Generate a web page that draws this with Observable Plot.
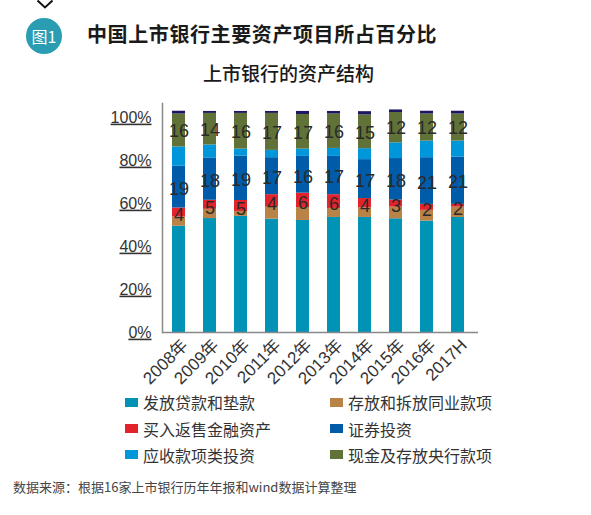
<!DOCTYPE html>
<html><head><meta charset="utf-8">
<script src="https://cdn.jsdelivr.net/npm/d3@7"></script>
<script src="https://cdn.jsdelivr.net/npm/@observablehq/plot@0.6"></script>
<style>
body{margin:0;width:591px;height:515px;position:relative;background:#fff;font-family:"Noto Sans CJK SC",sans-serif;overflow:hidden}
#chev{position:absolute;left:0;top:0}
#badge{position:absolute;left:26px;top:18px;width:36px;height:36px;border-radius:50%;background:#2a9db3;color:#fff;font-size:16px;line-height:36px;text-align:center}
#title{position:absolute;left:87px;top:22px;font-size:20px;line-height:24px;font-weight:bold;color:#1a1a1a;letter-spacing:0.6px;white-space:nowrap}
#subtitle{position:absolute;left:0;width:577px;top:61px;font-size:19px;line-height:24px;font-weight:500;color:#1a1a1a;text-align:center;white-space:nowrap}
#chart{position:absolute;left:0;top:95px}
#legend{position:absolute;left:125px;top:389px;display:grid;grid-template-columns:205px 200px;row-gap:0}
.li{display:flex;align-items:center;height:26.4px;font-size:16px;color:#333;white-space:nowrap}
.sw{width:13px;height:9px;margin-right:5px;flex:none}
#source{position:absolute;left:13px;top:478px;font-size:13px;line-height:17px;color:#444;white-space:nowrap}
</style></head><body>
<svg id="chev" width="80" height="12"><polyline points="37.5,0.5 45,7.5 52.5,0.5" fill="none" stroke="#111" stroke-width="2"/></svg>
<div id="badge">图1</div>
<div id="title">中国上市银行主要资产项目所占百分比</div>
<div id="subtitle">上市银行的资产结构</div>
<div id="chart"></div>
<div id="legend"></div>
<div id="source">数据来源：根据16家上市银行历年年报和wind数据计算整理</div>
<script>
const years = ["2008年","2009年","2010年","2011年","2012年","2013年","2014年","2015年","2016年","2017H"];
const categories = ["发放贷款和垫款","存放和拆放同业款项","买入返售金融资产","证券投资","应收款项类投资","现金及存放央行款项","其他"];
const colors = ["#0093b5","#b98347","#e3232b","#005ba9","#0096da","#607238","#1c1760"];
const loans       = [49.4,53.0,54.0,52.7,52.1,53.5,53.5,52.9,51.8,53.5];
const interbank   = [4.3,4.3,2.3,5.6,6.0,4.2,4.5,5.4,5.0,4.8];
const repo        = [4.2,4.2,5.1,5.8,6.7,6.4,4.3,3.3,2.8,1.3];
const securities  = [19.4,19.7,20.6,17.2,17.1,17.8,18.1,19.3,21.7,22.0];
const receivables = [9.0,6.0,3.3,3.4,3.4,3.7,5.1,7.3,7.7,7.4];
const cash        = [15.3,14.7,16.6,17.2,16.1,16.0,15.7,14.1,12.6,12.6];
const other       = [1.3,0.9,0.9,0.9,1.4,1.2,1.5,1.2,1.3,1.3];
const cashLabels = [16,14,16,17,17,16,15,12,12,12];
const secLabels  = [19,18,19,17,16,17,17,18,21,21];
const repoLabels = [4,5,5,4,6,6,4,3,2,2];
const yTicks = [0,20,40,60,80,100];
const legendOrder = [0,1,2,3,4,5];

const series = [loans, interbank, repo, securities, receivables, cash, other];
const rows = [];
years.forEach((y, i) => categories.forEach((c, j) => rows.push({year: y, cat: c, value: series[j][i]})));

const label = (cat, arr, dy) => Plot.text(rows, Plot.stackY({
  x: "year", y: "value", z: "cat", order: categories,
  text: d => d.cat === cat ? String(arr[years.indexOf(d.year)]) : null,
  fontSize: 18, fontFamily: "Liberation Sans Narrow, Liberation Sans, sans-serif",
  fill: "#2a2a2a", dy
}));

const chart = Plot.plot({
  width: 591, height: 300,
  marginLeft: 162, marginRight: 113, marginTop: 8, marginBottom: 63,
  style: {background: "transparent", overflow: "visible"},
  x: {domain: years, range: [163, 473], paddingInner: 0.58, paddingOuter: 0.29, label: null},
  y: {domain: [0, 106.5], label: null},
  color: {domain: categories, range: colors},
  marks: [
    Plot.barY(rows, Plot.stackY({x: "year", y: "value", z: "cat", fill: "cat", order: categories})),
    Plot.ruleY([0], {stroke: "#888", strokeWidth: 1.5}),
    Plot.frame({anchor: "left", stroke: "#888", strokeWidth: 1.5}),
    Plot.axisY({ticks: yTicks, tickFormat: d => d + "%", tickSize: 0, tickPadding: 11, fontSize: 16,
      fontFamily: "Liberation Sans, sans-serif", fill: "#333", label: null}),
    Plot.axisX({tickRotate: -45, tickSize: 0, tickPadding: 10, dx: 6, fontSize: 17,
      fontFamily: "Liberation Sans, Noto Sans CJK SC, sans-serif", fill: "#333", label: null}),
    label("现金及存放央行款项", cashLabels, 1),
    label("证券投资", secLabels, 2),
    label("买入返售金融资产", repoLabels, 3)
  ]
});
document.getElementById("chart").appendChild(chart);
d3.select(chart).selectAll('[aria-label="y-axis tick label"] text').style("text-decoration", "underline");

const lg = document.getElementById("legend");
legendOrder.forEach(j => {
  const d = document.createElement("div");
  d.className = "li";
  d.innerHTML = `<span class="sw" style="background:${colors[j]}"></span>${categories[j]}`;
  lg.appendChild(d);
});
</script>
</body></html>
